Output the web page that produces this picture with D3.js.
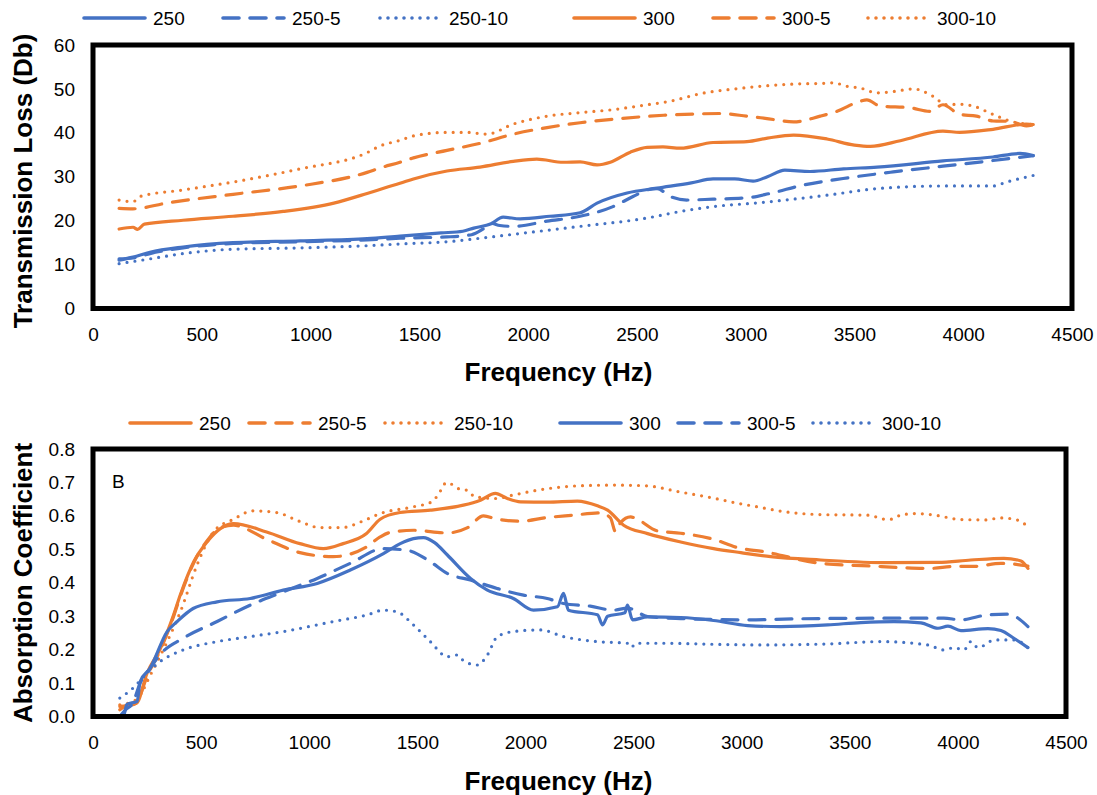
<!DOCTYPE html>
<html>
<head>
<meta charset="utf-8">
<script src="https://cdnjs.cloudflare.com/ajax/libs/d3/7.8.5/d3.min.js"></script>
<style>
  body { margin: 0; background: #fff; }
  text { font-family: Arial, "Liberation Sans", sans-serif; fill: #000; }
</style>
</head>
<body>
<svg id="chart"></svg>
<script>
// ---- data: [frequency Hz, value] ----
const freqTicks = [0, 500, 1000, 1500, 2000, 2500, 3000, 3500, 4000, 4500];
const tlTicks = [0, 10, 20, 30, 40, 50, 60];
const acTicks = [0, 0.1, 0.2, 0.3, 0.4, 0.5, 0.6, 0.7, 0.8];
const seriesNames = ["250", "250-5", "250-10", "300", "300-5", "300-10"];

// transmission loss (dB)
const tl250 = [[120,11.0],[184,11.7],[262,12.8],[414,14.0],[644,15.0],[952,15.4],[1260,15.9],[1411,16.5],[1600,17.2],[1700,17.6],[1750,18.3],[1830,19.3],[1885,20.8],[1963,20.4],[2100,21.0],[2239,21.8],[2317,24.0],[2455,26.3],[2593,27.4],[2750,28.6],[2850,29.5],[2950,29.5],[3034,29.0],[3100,30.0],[3180,31.5],[3296,31.2],[3450,31.8],[3604,32.2],[3907,33.6],[4137,34.5],[4261,35.3],[4322,34.8]];
const tl250_5 = [[120,11.3],[184,11.5],[262,12.5],[414,13.8],[644,14.8],[952,15.2],[1260,15.6],[1411,16.0],[1627,16.3],[1740,16.8],[1790,18.0],[1830,19.4],[1870,18.9],[1932,18.7],[2087,19.9],[2239,21.0],[2390,23.2],[2482,25.5],[2547,27.0],[2593,27.3],[2653,25.5],[2730,24.7],[2850,24.9],[3006,25.2],[3112,26.2],[3264,28.1],[3448,29.6],[3678,31.1],[3907,32.4],[4137,33.7],[4322,34.8]];
const tl250_10 = [[120,10.2],[262,11.3],[414,12.5],[644,13.5],[952,13.8],[1260,14.3],[1411,14.7],[1627,15.2],[1780,16.0],[1932,16.9],[2239,18.7],[2546,20.6],[2700,22.1],[2850,23.2],[3066,24.1],[3374,25.8],[3604,27.3],[3907,27.9],[4137,27.9],[4200,28.8],[4322,30.3]];
const tl300 = [[120,18.1],[184,18.5],[205,18.0],[236,19.2],[414,20.1],[644,21.0],[874,22.1],[1107,24.0],[1260,26.2],[1350,27.6],[1411,28.5],[1473,29.5],[1627,31.3],[1779,32.2],[1932,33.5],[2040,34.0],[2162,33.3],[2239,33.4],[2317,32.7],[2378,33.3],[2470,35.6],[2547,36.7],[2620,36.8],[2700,36.5],[2850,37.8],[3006,38.0],[3100,38.8],[3220,39.5],[3374,38.6],[3500,37.2],[3573,36.9],[3711,38.2],[3907,40.4],[3984,40.1],[4137,40.8],[4290,42.0],[4322,41.9]];
const tl300_5 = [[120,22.8],[184,22.7],[338,24.0],[644,26.0],[952,27.9],[1260,31.0],[1319,32.0],[1411,33.3],[1473,34.3],[1627,36.0],[1779,37.6],[1932,39.7],[2087,41.2],[2239,42.3],[2393,43.1],[2623,44.0],[2776,44.3],[2880,44.4],[3006,43.8],[3090,43.3],[3220,42.5],[3343,43.8],[3420,44.9],[3527,47.2],[3557,47.5],[3618,46.1],[3756,45.7],[3846,44.9],[3907,46.4],[3984,44.2],[4061,43.8],[4137,42.7],[4214,42.6],[4290,41.6],[4322,41.8]];
const tl300_10 = [[120,24.7],[184,24.3],[216,25.5],[414,27.0],[644,28.8],[952,31.8],[1260,35.5],[1319,37.0],[1411,38.3],[1473,39.3],[1627,40.1],[1719,40.1],[1810,39.7],[1932,42.0],[2087,43.8],[2239,44.6],[2393,45.3],[2547,46.4],[2653,47.2],[2800,49.0],[2950,50.0],[3066,50.6],[3220,51.1],[3374,51.3],[3404,51.4],[3465,50.6],[3527,50.2],[3604,49.1],[3680,49.4],[3772,50.0],[3862,48.3],[3923,46.4],[3984,46.5],[4045,46.1],[4137,44.2],[4214,42.7],[4290,42.0],[4322,41.9]];

// absorption coefficient
const ac250 = [[124,0.02],[184,0.04],[200,0.04],[250,0.13],[312,0.204],[373,0.304],[404,0.364],[466,0.463],[527,0.522],[589,0.562],[650,0.577],[803,0.552],[957,0.517],[1065,0.502],[1157,0.517],[1265,0.547],[1328,0.59],[1420,0.61],[1560,0.617],[1713,0.632],[1792,0.647],[1861,0.667],[1916,0.652],[1977,0.642],[2101,0.641],[2240,0.644],[2333,0.63],[2380,0.617],[2454,0.572],[2565,0.547],[2718,0.522],[2870,0.502],[2996,0.49],[3134,0.478],[3366,0.468],[3676,0.46],[3908,0.461],[4060,0.468],[4213,0.473],[4292,0.465],[4324,0.443]];
const ac250_5 = [[124,0.03],[184,0.035],[200,0.04],[250,0.12],[312,0.2],[373,0.3],[404,0.36],[466,0.46],[527,0.525],[589,0.565],[650,0.572],[803,0.53],[957,0.49],[1111,0.478],[1265,0.507],[1328,0.537],[1372,0.55],[1482,0.557],[1638,0.549],[1730,0.564],[1806,0.6],[1869,0.59],[1977,0.584],[2101,0.595],[2222,0.602],[2346,0.609],[2393,0.594],[2417,0.552],[2440,0.58],[2486,0.597],[2517,0.59],[2611,0.555],[2718,0.548],[2870,0.53],[2981,0.505],[3102,0.493],[3366,0.458],[3598,0.45],[3750,0.445],[3875,0.443],[3982,0.449],[4075,0.449],[4199,0.458],[4324,0.45]];
const ac250_10 = [[124,0.035],[200,0.05],[270,0.13],[340,0.22],[404,0.313],[481,0.453],[527,0.52],[557,0.552],[650,0.59],[740,0.615],[850,0.61],[950,0.585],[1050,0.565],[1150,0.565],[1250,0.585],[1328,0.607],[1480,0.627],[1567,0.642],[1595,0.662],[1636,0.70],[1696,0.68],[1733,0.676],[1766,0.657],[1867,0.652],[1941,0.662],[2097,0.681],[2250,0.69],[2402,0.692],[2558,0.69],[2711,0.672],[2863,0.654],[2987,0.637],[3047,0.63],[3204,0.612],[3356,0.604],[3587,0.602],[3665,0.59],[3693,0.59],[3734,0.602],[3803,0.607],[3895,0.602],[4015,0.589],[4126,0.588],[4200,0.594],[4278,0.587],[4310,0.575]];
const ac300 = [[124,0.0],[140,0.0],[157,0.036],[204,0.045],[218,0.104],[264,0.144],[343,0.254],[389,0.284],[463,0.323],[574,0.343],[727,0.353],[880,0.378],[1037,0.398],[1190,0.438],[1343,0.487],[1421,0.517],[1482,0.532],[1528,0.535],[1580,0.52],[1639,0.483],[1746,0.413],[1824,0.378],[1944,0.353],[2037,0.318],[2148,0.328],[2176,0.368],[2199,0.318],[2333,0.304],[2357,0.274],[2380,0.3],[2460,0.31],[2472,0.333],[2495,0.289],[2565,0.298],[2718,0.296],[2870,0.287],[3028,0.272],[3181,0.269],[3398,0.274],[3551,0.281],[3704,0.284],[3829,0.28],[3908,0.264],[3954,0.27],[4014,0.257],[4139,0.263],[4199,0.257],[4259,0.234],[4324,0.206]];
const ac300_5 = [[124,0.0],[150,0.02],[184,0.04],[218,0.1],[264,0.144],[310,0.185],[417,0.234],[574,0.284],[727,0.333],[880,0.373],[1037,0.413],[1190,0.458],[1343,0.502],[1453,0.497],[1560,0.463],[1638,0.428],[1745,0.408],[1869,0.383],[1991,0.363],[2101,0.353],[2176,0.338],[2300,0.33],[2407,0.318],[2472,0.324],[2565,0.299],[2718,0.293],[3028,0.289],[3241,0.292],[3704,0.294],[3935,0.294],[4014,0.289],[4139,0.304],[4231,0.306],[4324,0.269]];
const ac300_10 = [[124,0.055],[185,0.085],[250,0.13],[310,0.164],[417,0.199],[574,0.224],[727,0.239],[880,0.254],[1111,0.284],[1269,0.304],[1343,0.318],[1406,0.313],[1482,0.274],[1560,0.224],[1639,0.179],[1685,0.184],[1715,0.166],[1778,0.154],[1824,0.184],[1870,0.239],[1945,0.254],[2070,0.259],[2176,0.239],[2333,0.224],[2472,0.219],[2490,0.207],[2510,0.219],[2641,0.219],[2870,0.216],[3088,0.214],[3398,0.217],[3644,0.224],[3861,0.214],[3935,0.199],[3982,0.206],[4028,0.199],[4060,0.224],[4093,0.206],[4170,0.229],[4262,0.229],[4324,0.206]];

// ---- styling ----
const blue = "#4472C4", orange = "#ED7D31";
const dashes = { solid: null, dash: "16,11", dot: "0,8" };
const styles = ["solid", "dash", "dot", "solid", "dash", "dot"];

const svg = d3.select("#chart").attr("width", 1097).attr("height", 795);

const panels = [
  {
    left: 93, right: 1072, top: 45, bottom: 308.5,
    yDomain: [0, 60], yTicks: tlTicks, yFormat: d3.format("d"),
    data: [tl250, tl250_5, tl250_10, tl300, tl300_5, tl300_10],
    colors: [blue, blue, blue, orange, orange, orange],
    legendY: 18, legendX: [82, 221, 378, 572, 711, 866],
    yTitle: "Transmission Loss (Db)", yTitleY: 181, xTitleY: 381
  },
  {
    left: 93, right: 1066, top: 449, bottom: 716.5,
    yDomain: [0, 0.8], yTicks: acTicks, yFormat: d3.format(".1f"),
    data: [ac250, ac250_5, ac250_10, ac300, ac300_5, ac300_10],
    colors: [orange, orange, orange, blue, blue, blue],
    legendY: 423, legendX: [128, 247, 383, 558, 676, 811],
    yTitle: "Absorption Coefficient", yTitleY: 583, xTitleY: 790,
    tag: "B"
  }
];

panels.forEach(p => {
  const x = d3.scaleLinear().domain([0, 4500]).range([p.left, p.right]);
  const y = d3.scaleLinear().domain(p.yDomain).range([p.bottom, p.top]);
  const line = d3.line()
    .x(d => x(d[0]))
    .y(d => y(d[1]))
    .curve(d3.curveMonotoneX);

  p.data.forEach((d, i) => {
    svg.append("path")
      .datum(d)
      .attr("d", line)
      .attr("fill", "none")
      .attr("stroke", p.colors[i])
      .attr("stroke-width", 3.2)
      .attr("stroke-linecap", "round")
      .attr("stroke-linejoin", "round")
      .attr("stroke-dasharray", dashes[styles[i]]);
  });

  // plot area border
  svg.append("rect")
    .attr("x", p.left).attr("y", p.top)
    .attr("width", p.right - p.left).attr("height", p.bottom - p.top)
    .attr("fill", "none").attr("stroke", "#000").attr("stroke-width", 5);

  svg.append("g")
    .attr("transform", `translate(0,${p.bottom})`)
    .call(d3.axisBottom(x).tickValues(freqTicks).tickFormat(d3.format("d")).tickSize(0).tickPadding(19))
    .call(g => g.select(".domain").remove())
    .attr("font-size", 19).attr("font-family", "Arial, 'Liberation Sans', sans-serif");

  svg.append("g")
    .attr("transform", `translate(${p.left},0)`)
    .call(d3.axisLeft(y).tickValues(p.yTicks).tickFormat(p.yFormat).tickSize(0).tickPadding(18))
    .call(g => g.select(".domain").remove())
    .attr("font-size", 19).attr("font-family", "Arial, 'Liberation Sans', sans-serif");

  // axis titles
  svg.append("text")
    .attr("x", (93 + 1072) / 2 - 24).attr("y", p.xTitleY)
    .attr("text-anchor", "middle")
    .attr("font-size", 26).attr("font-weight", "bold")
    .text("Frequency (Hz)");

  svg.append("text")
    .attr("transform", `translate(32,${p.yTitleY}) rotate(-90)`)
    .attr("text-anchor", "middle")
    .attr("font-size", 26).attr("font-weight", "bold")
    .text(p.yTitle);

  if (p.tag) {
    svg.append("text")
      .attr("x", 112).attr("y", 488)
      .attr("font-size", 19)
      .text(p.tag);
  }

  // legend
  const legend = svg.append("g");
  seriesNames.forEach((name, i) => {
    const lx = p.legendX[i];
    legend.append("line")
      .attr("x1", lx + 2).attr("x2", lx + 63)
      .attr("y1", p.legendY).attr("y2", p.legendY)
      .attr("stroke", p.colors[i])
      .attr("stroke-width", 3.6)
      .attr("stroke-linecap", "round")
      .attr("stroke-dasharray", dashes[styles[i]]);
    legend.append("text")
      .attr("x", lx + 71).attr("y", p.legendY + 7)
      .attr("font-size", 19)
      .text(name);
  });
});
</script>
</body>
</html>
